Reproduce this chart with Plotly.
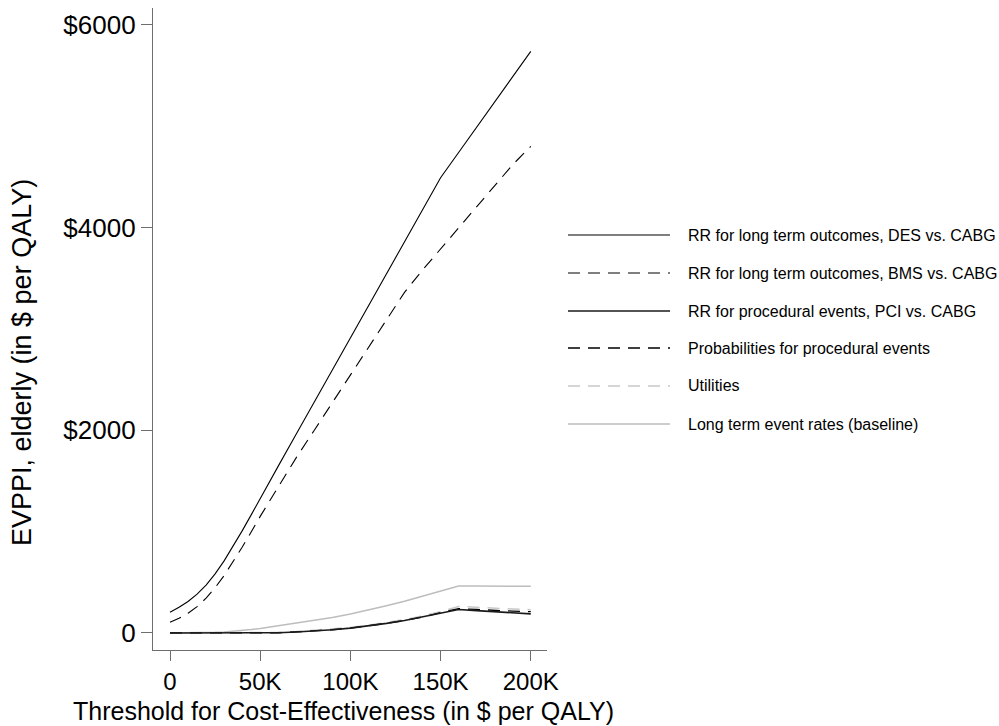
import plotly.graph_objects as go

# ---- data ----
threshold = [0, 5000, 10000, 15000, 20000, 25000, 30000, 35000, 40000, 45000, 50000,
             60000, 70000, 80000, 90000, 100000,
             110000, 120000, 130000, 140000, 150000, 160000, 170000, 180000, 190000, 200000]

rr_des = [205, 253, 311, 383, 473, 583, 711, 854, 1007, 1165, 1330,
          1646, 1962, 2278, 2594, 2910,
          3226, 3542, 3858, 4174, 4490, 4740, 4990, 5240, 5490, 5737]
rr_bms = [105, 145, 195, 260, 343, 446, 566, 701, 846, 996, 1150,
          1440, 1730, 2000, 2270, 2540,
          2810, 3080, 3360, 3580, 3790, 4000, 4200, 4410, 4620, 4800]
rr_proc = [0, 0, 0, 0, 0, 0, 0, 0, 0, 0, 0,
           2, 10, 20, 32, 48,
           70, 95, 123, 157, 198, 232, 220, 208, 198, 188]
prob_proc = [0, 0, 0, 0, 0, 0, 0, 0, 0, 0, 0,
             2, 10, 20, 32, 48,
             70, 95, 123, 157, 200, 240, 232, 222, 215, 210]
utilities = [0, 0, 0, 0, 0, 0, 0, 0, 0, 1, 2,
             6, 15, 26, 38, 55,
             77, 102, 132, 167, 210, 262, 252, 243, 236, 230]
long_term = [0, 0, 0, 0, 3, 6, 10, 16, 25, 34, 45,
             70, 95, 122, 152, 187,
             225, 268, 312, 360, 410, 463, 463, 461, 460, 460]

series_names = [
    "RR for long term outcomes, DES vs. CABG",
    "RR for long term outcomes, BMS vs. CABG",
    "RR for procedural events, PCI vs. CABG",
    "Probabilities for procedural events",
    "Utilities",
    "Long term event rates (baseline)",
]
series_values = [rr_des, rr_bms, rr_proc, prob_proc, utilities, long_term]

y_tickvals = [0, 2000, 4000, 6000]
y_ticktext = ["0", "$2000", "$4000", "$6000"]
x_tickvals = [0, 50000, 100000, 150000, 200000]
x_ticktext = ["0", "50K", "100K", "150K", "200K"]

# ---- styles ----
colors = ["#000000", "#000000", "#1a1a1a", "#000000", "#c8c8c8", "#bdbdbd"]
dashes = ["solid", "12px,8px", "solid", "12px,8px", "12px,8px", "solid"]
widths = [1.1, 1.1, 1.6, 1.3, 1.5, 1.5]
draw_order = [5, 4, 3, 2, 1, 0]

FONT = "Liberation Sans, Arial, sans-serif"
AXIS_COLOR = "#6e6e6e"

fig = go.Figure()
for i in draw_order:
    fig.add_trace(go.Scatter(
        x=threshold, y=series_values[i], mode="lines", name=series_names[i],
        line=dict(color=colors[i], dash=dashes[i], width=widths[i]),
        showlegend=False,
    ))

# Manual legend (long line samples like the original)
L = 153; R = 547; T = 8; B = 650
pw = R - L; ph = B - T
def px_x(p):
    return (p - L) / pw
def px_y(p):
    return (B - p) / ph

legend_rows = [235, 273, 311, 348, 386, 424]
shapes = []
annotations = []
for i, name in enumerate(series_names):
    yy = px_y(legend_rows[i])
    shapes.append(dict(type="line", xref="paper", yref="paper",
                       x0=px_x(568), x1=px_x(670), y0=yy, y1=yy,
                       line=dict(color=colors[i], dash=dashes[i], width=widths[i])))
    annotations.append(dict(text=name, xref="paper", yref="paper",
                            x=px_x(686), y=yy, xanchor="left", yanchor="middle",
                            showarrow=False, font=dict(family=FONT, size=16, color="#000")))

# axis titles
annotations.append(dict(text="Threshold for Cost-Effectiveness (in $ per QALY)",
                        xref="paper", yref="paper", x=px_x(343), y=px_y(711),
                        xanchor="center", yanchor="middle", showarrow=False,
                        font=dict(family=FONT, size=25, color="#000")))
annotations.append(dict(text="EVPPI, elderly (in $ per QALY)",
                        xref="paper", yref="paper", x=px_x(22), y=px_y(363),
                        xanchor="center", yanchor="middle", showarrow=False, textangle=-90,
                        font=dict(family=FONT, size=27, color="#000")))

fig.update_layout(
    width=999, height=726,
    margin=dict(l=L, r=999 - R, t=T, b=726 - B),
    paper_bgcolor="white", plot_bgcolor="white",
    shapes=shapes, annotations=annotations,
    showlegend=False,
    xaxis=dict(range=[-9430, 209000], tickvals=x_tickvals, ticktext=x_ticktext,
               showgrid=False, zeroline=False, showline=True, linecolor=AXIS_COLOR,
               linewidth=1.3, ticks="outside", ticklen=10, tickcolor=AXIS_COLOR,
               tickwidth=1.3, tickfont=dict(family=FONT, size=24, color="#000")),
    yaxis=dict(range=[-168, 6165], tickvals=y_tickvals, ticktext=y_ticktext,
               showgrid=False, zeroline=False, showline=True, linecolor=AXIS_COLOR,
               linewidth=1.3, ticks="outside", ticklen=11, tickcolor=AXIS_COLOR,
               tickwidth=1.3, tickfont=dict(family=FONT, size=26, color="#000")),
)

fig.write_html("out.html")
